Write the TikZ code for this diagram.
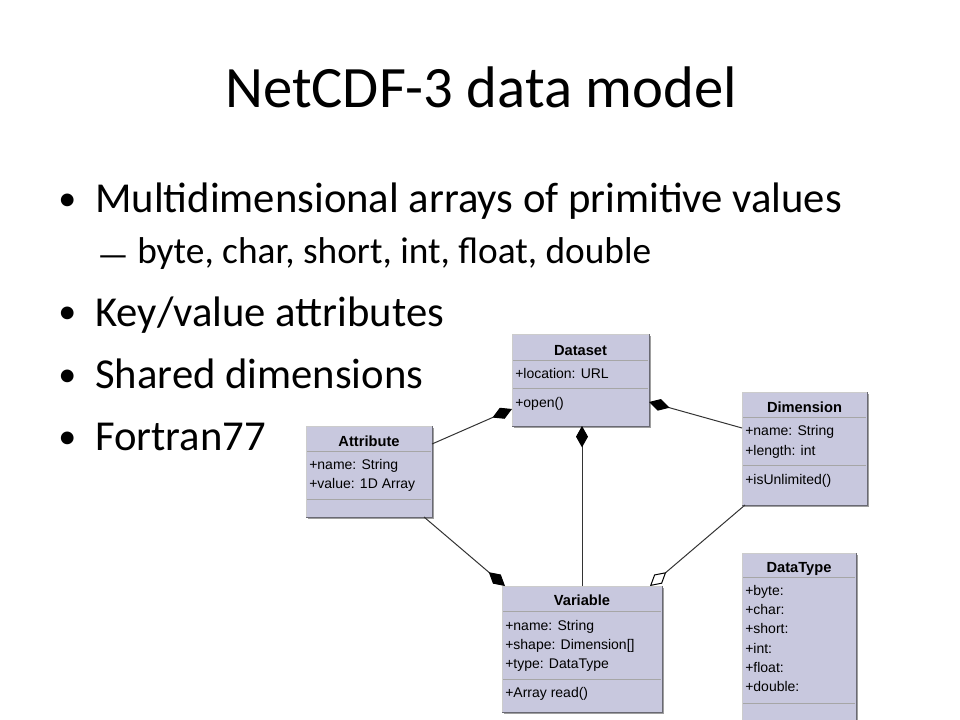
\documentclass[tikz,border=0pt]{standalone}
\usepackage{fontspec}
\setmainfont{Carlito}
\newfontfamily\umlfont{Liberation Sans}
\usepackage{xcolor}
\usetikzlibrary{positioning, calc, fit, arrows.meta, shadows}
\definecolor{boxfill}{RGB}{200,200,222}
\definecolor{boxedge}{RGB}{105,105,115}
\tikzset{
    slidetitle/.style={anchor=base, inner sep=0pt, font=\fontsize{44}{52}\selectfont},
    bulletmark/.style={anchor=base west, inner sep=0pt, font=\fontsize{27}{30}\selectfont},
    bullettext/.style={anchor=base west, inner sep=0pt, font=\fontsize{32}{38}\selectfont},
    subtext/.style={anchor=base west, inner sep=0pt, font=\fontsize{28}{34}\selectfont},
    umlbox/.style={fill=boxfill, draw=gray!40, line width=0.75pt, inner sep=0pt, outer sep=0pt,
        drop shadow={shadow xshift=1.2pt, shadow yshift=-1.2pt, fill=gray!75, opacity=1}},
    umlname/.style={anchor=base, inner sep=0pt, font=\umlfont\fontsize{11}{13}\selectfont\bfseries},
    umlitem/.style={anchor=base west, inner sep=0pt, font=\umlfont\fontsize{10.5}{12}\selectfont},
    divider/.style={draw=gray!70, line width=0.75pt},
    edgeline/.style={draw=boxedge, line width=0.75pt},
    assoc/.style={draw=black!80, line width=0.75pt},
    composite/.style={assoc, -{Diamond[length=16pt, width=9pt, fill=black, color=black]}},
    aggregate/.style={assoc, -{Diamond[open, fill=white, color=black, length=16pt, width=9pt]}},
}

\begin{document}
\begin{tikzpicture}[x=0.75pt, y=-0.75pt] % one unit = one pixel of the slide
    \useasboundingbox (0,0) rectangle (960,720);
    \clip (0,0) rectangle (960,720);

    % slide text
    \node[slidetitle] (title) at (481,108) {NetCDF-3 data model};
    \node[bulletmark] (m1) at (58,211) {\textbullet};
    \node[bullettext] (t1) at (95,213) {Multidimensional arrays of primitive values};
    \node[subtext, font=\fontsize{26}{30}\selectfont] (m2) at (97,267) {—};
    \node[subtext] (t2) at (137,264) {byte, char, short, int, float, double};
    \node[bulletmark] (m3) at (58,324) {\textbullet};
    \node[bullettext] (t3) at (95,326) {Key/value attributes};
    \node[bulletmark] (m4) at (58,386) {\textbullet};
    \node[bullettext] (t4) at (95,388) {Shared dimensions};
    \node[bulletmark] (m5) at (58,448) {\textbullet};
    \node[bullettext] (t5) at (95,450) {Fortran77};

    % class boxes
    \node[umlbox, fit={(512,334) (649,426)}] (dataset) {};
    \node[umlbox, fit={(742,392) (867,505)}] (dimension) {};
    \node[umlbox, fit={(306,426) (432,517)}] (attribute) {};
    \node[umlbox, fit={(502,586) (662,712)}] (variable) {};
    \node[umlbox, fit={(742,553) (856,735)}] (datatype) {};
    \foreach \b in {dataset, dimension, attribute, variable, datatype}
        \draw[edgeline] (\b.north east) -- (\b.south east) -- (\b.south west);

    % compartments
    \draw[divider] (513,360) -- (648,360) (513,388) -- (648,388);
    \draw[divider] (743,417) -- (866,417) (743,465) -- (866,465);
    \draw[divider] (307,451) -- (431,451) (307,499) -- (431,499);
    \draw[divider] (503,611) -- (661,611) (503,679) -- (661,679);
    \draw[divider] (743,577) -- (855,577) (743,703) -- (855,703);

    % Dataset
    \node[umlname] (dsname) at (580.5,355) {Dataset};
    \node[umlitem] (dsloc) at (515,378) {+location: URL};
    \node[umlitem] (dsopen) at (515,407) {+open()};

    % Dimension
    \node[umlname] (dimname) at (804.5,412) {Dimension};
    \node[umlitem] (dimvar) at (745,435) {+name: String};
    \node[umlitem] (dimlen) at (745,455) {+length: int};
    \node[umlitem] (dimunl) at (745,484) {+isUnlimited()};

    % Attribute
    \node[umlname] (attname) at (369,446) {Attribute};
    \node[umlitem] (attvar) at (309,469) {+name: String};
    \node[umlitem] (attval) at (309,488) {+value: 1D Array};

    % Variable
    \node[umlname] (varname) at (582,605) {Variable};
    \node[umlitem] (varvar) at (505,630) {+name: String};
    \node[umlitem] (varshape) at (505,649) {+shape: Dimension[]};
    \node[umlitem] (vartype) at (505,668) {+type: DataType};
    \node[umlitem] (varread) at (505,697) {+Array read()};

    % DataType
    \node[umlname] (dtname) at (799,572) {DataType};
    \node[umlitem] (dtbyte) at (745,595) {+byte:};
    \node[umlitem] (dtchar) at (745,614) {+char:};
    \node[umlitem] (dtshort) at (745,633) {+short:};
    \node[umlitem] (dtint) at (745,653) {+int:};
    \node[umlitem] (dtfloat) at (745,672) {+float:};
    \node[umlitem] (dtdouble) at (745,691) {+double:};

    % associations
    \draw[composite] ($(attribute.north east)+(0,18)$) -- ($(dataset.north west)+(0,75)$);
    \draw[composite] ($(dimension.north west)+(0,36)$) -- ($(dataset.north east)+(0,68)$);
    \draw[composite] (variable.north) -- (variable.north |- dataset.south);
    \draw[composite] ($(attribute.south east)+(-8,0)$) -- ($(variable.north west)+(3,0)$);
    \draw[aggregate] ($(dimension.south west)+(3,0)$) -- ($(variable.north east)+(-12,0)$);
\end{tikzpicture}
\end{document}
